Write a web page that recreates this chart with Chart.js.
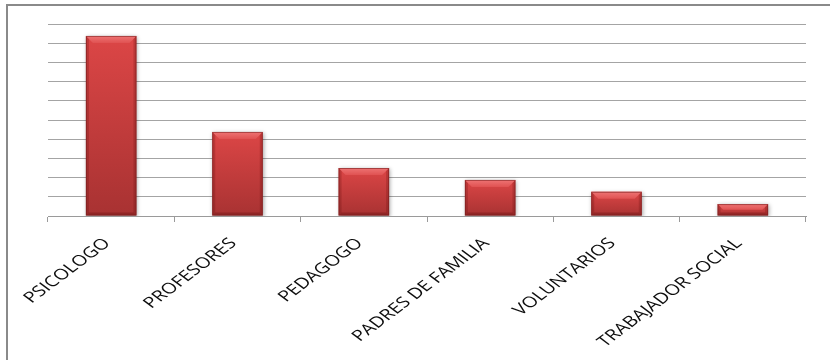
<!DOCTYPE html>
<html>
<head>
<meta charset="utf-8">
<script src="https://cdn.jsdelivr.net/npm/chart.js@4/dist/chart.umd.min.js"></script>
<style>
  html, body { margin: 0; padding: 0; background: #fff; }
  #wrap { position: relative; width: 830px; height: 360px; overflow: hidden; }
  #frame {
    position: absolute; left: 6px; top: 4px; width: 900px; height: 400px;
    border-left: 2px solid #8a8a8a; border-top: 2px solid #8a8a8a;
    pointer-events: none;
  }
  canvas { position: absolute; left: 0; top: 0; }
</style>
</head>
<body>
<div id="wrap">
  <canvas id="chart" width="830" height="360"></canvas>
  <div id="frame"></div>
</div>
<script>
const categories = ['PSICOLOGO', 'PROFESORES', 'PEDAGOGO', 'PADRES DE FAMILIA', 'VOLUNTARIOS', 'TRABAJADOR SOCIAL']
const percentages = [46.9, 21.9, 12.5, 9.4, 6.3, 3.1]
const yMax = 50
const yStep = 5

// fill each bar with its own top-to-bottom gradient
const barFill = (context) => {
  const chart = context.chart
  const { ctx, chartArea, scales } = chart
  if (!chartArea) return '#c83c3c'
  const top = scales.y.getPixelForValue(context.raw)
  const bottom = scales.y.getPixelForValue(0)
  const g = ctx.createLinearGradient(0, top, 0, bottom)
  g.addColorStop(0, '#dc4646')
  g.addColorStop(1, '#a83232')
  return g
}

// soft drop shadow behind the bars
const barShadow = {
  id: 'barShadow',
  beforeDatasetsDraw(chart) {
    const ctx = chart.ctx
    ctx.save()
    ctx.shadowColor = 'rgba(0,0,0,0.35)'
    ctx.shadowBlur = 4
    ctx.shadowOffsetX = 1
    ctx.shadowOffsetY = 1
  },
  afterDatasetsDraw(chart) {
    chart.ctx.restore()
  }
}

// bevelled edges on top of each bar
const barBevel = {
  id: 'barBevel',
  afterDatasetsDraw(chart) {
    const ctx = chart.ctx
    const meta = chart.getDatasetMeta(0)
    meta.data.forEach((bar) => {
      const { x, y, base, width } = bar.getProps(['x', 'y', 'base', 'width'], true)
      const l = x - width / 2
      const r = x + width / 2
      const h = base - y
      const b = Math.min(7, h / 2)
      ctx.save()
      // top face
      const tg = ctx.createLinearGradient(0, y, 0, y + b)
      tg.addColorStop(0, '#ee7474')
      tg.addColorStop(1, '#e05252')
      ctx.fillStyle = tg
      ctx.beginPath()
      ctx.moveTo(l, y)
      ctx.lineTo(r, y)
      ctx.lineTo(r - b, y + b)
      ctx.lineTo(l + b, y + b)
      ctx.closePath()
      ctx.fill()
      // side faces
      const s = Math.min(3, b)
      ctx.fillStyle = 'rgba(90,10,10,0.22)'
      ctx.beginPath()
      ctx.moveTo(l, y)
      ctx.lineTo(l + s, y + s)
      ctx.lineTo(l + s, base - s)
      ctx.lineTo(l, base)
      ctx.closePath()
      ctx.fill()
      ctx.beginPath()
      ctx.moveTo(r, y)
      ctx.lineTo(r - s, y + s)
      ctx.lineTo(r - s, base - s)
      ctx.lineTo(r, base)
      ctx.closePath()
      ctx.fill()
      // bottom face
      ctx.fillStyle = 'rgba(90,10,10,0.3)'
      ctx.beginPath()
      ctx.moveTo(l, base)
      ctx.lineTo(r, base)
      ctx.lineTo(r - s, base - s)
      ctx.lineTo(l + s, base - s)
      ctx.closePath()
      ctx.fill()
      ctx.strokeStyle = 'rgba(120,30,30,0.6)'
      ctx.lineWidth = 1
      ctx.strokeRect(l + 0.5, y + 0.5, width - 1, h - 1)
      ctx.restore()
    })
  }
}

// slanted category labels, ending under each category centre
const slantedLabels = {
  id: 'slantedLabels',
  afterDraw(chart) {
    const ctx = chart.ctx
    const xScale = chart.scales.x
    const { bottom } = chart.chartArea
    ctx.save()
    ctx.font = '15px "Open Sans", sans-serif'
    ctx.fillStyle = '#0d0d0d'
    ctx.textAlign = 'right'
    ctx.textBaseline = 'middle'
    categories.forEach((label, i) => {
      ctx.save()
      ctx.translate(xScale.getPixelForValue(i) - 4, bottom + 25)
      ctx.scale(1.33, 1)
      ctx.rotate(-Math.PI / 4)
      ctx.fillText(label, 0, 0)
      ctx.restore()
    })
    ctx.restore()
  }
}

new Chart(document.getElementById('chart').getContext('2d'), {
  type: 'bar',
  data: {
    labels: categories,
    datasets: [{
      data: percentages,
      backgroundColor: barFill,
      borderWidth: 0,
      barPercentage: 0.5,
      categoryPercentage: 0.8
    }]
  },
  options: {
    responsive: false,
    animation: false,
    layout: { padding: { top: 24, right: 24, left: 0, bottom: 0 } },
    plugins: {
      legend: { display: false },
      tooltip: { enabled: false }
    },
    scales: {
      x: {
        afterFit: (scale) => { scale.height = 144 },
        ticks: { display: false },
        grid: {
          display: true,
          offset: true,
          drawOnChartArea: false,
          drawTicks: true,
          tickLength: 6,
          color: '#9a9a9a'
        },
        border: { display: true, color: '#9a9a9a' }
      },
      y: {
        min: 0,
        max: yMax,
        afterFit: (scale) => { scale.width = 48 },
        ticks: { display: false, stepSize: yStep },
        grid: { color: '#a4a4a4', drawTicks: false },
        border: { display: false }
      }
    }
  },
  plugins: [barShadow, barBevel, slantedLabels]
})
</script>
</body>
</html>
